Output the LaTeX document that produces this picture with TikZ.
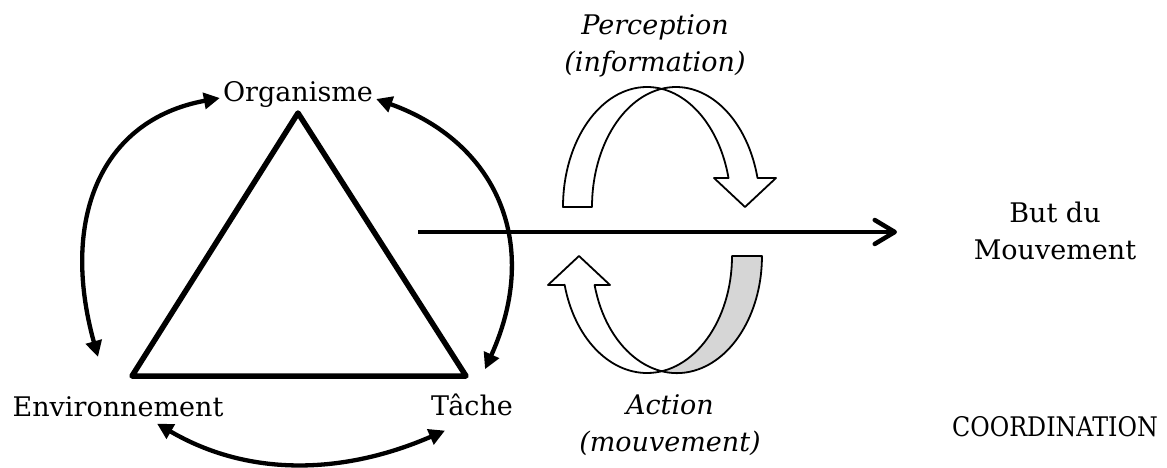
\documentclass[tikz,border=0pt]{standalone}
\usepackage{fontspec}
\setmainfont{DejaVu Serif}
\usetikzlibrary{arrows.meta,calc}
\begin{document}
\begin{tikzpicture}[x=1pt,y=-1pt,
  lbl/.style={font=\fontsize{27}{37}\selectfont, inner sep=0pt, align=center},
  ilbl/.style={lbl, font=\fontsize{27}{37}\selectfont\itshape},
  tri/.style={line width=5.5pt, line join=round},
  link/.style={line width=4.3pt, {Triangle[length=16pt,width=16pt]}-{Triangle[length=16pt,width=16pt]}},
  goal/.style={line width=4.5pt, -{Straight Barb[length=20pt,width=24pt,round]}},
  block/.style={line width=1.8pt, line join=round},
  back/.style={fill=black!16}
]
\useasboundingbox (0,0) rectangle (1167,468);

% labels
\node[lbl, anchor=base] (org) at (298,102) {Organisme};
\node[lbl, anchor=base] (env) at (118,416) {Environnement};
\node[lbl, anchor=base] (tache) at (472,415) {Tâche};
\node[ilbl, anchor=base] (perc) at (655,72) {Perception\\(information)};
\node[ilbl, anchor=base] (act) at (670,451) {Action\\(mouvement)};
\node[lbl, anchor=base] (but) at (1055,259) {But du\\Mouvement};
\node[lbl, anchor=base] (coord) at (1055,436) {\scalebox{0.88}[1]{COORDINATION}};

% triangle
\coordinate (apex) at (298,113);
\coordinate (bl) at (132,376);
\coordinate (br) at (466,376);
\draw[tri] (apex) -- (bl) -- (br) -- cycle;

% goal arrow
\coordinate (hs) at (418,232);
\coordinate (he) at (897,232);
\draw[goal] (hs) -- (he);

% interaction arrows
\draw[link] ($(org.base west)+(-3,-4)$) .. controls (100,120) and (60,220) .. ($(env.north)+(-20,-39)$);
\draw[link] ($(org.base east)+(3,-3)$) .. controls (496,142) and (542,243) .. ($(tache.north)+(13,-24)$);
\draw[link] ($(env.south)+(39,7)$) .. controls (250,478) and (345,474) .. ($(tache.south)+(-27,15)$);

% perception block arrow
\draw[block, fill=white] (563,207) arc[start angle=180, end angle=346, x radius=84, y radius=120]
  -- (714,178) -- (745,207) -- (776,178) -- (757.5,178)
  arc[start angle=346, end angle=180, x radius=84, y radius=120] -- cycle;

% action block arrow
\fill[white] (732,256) arc[start angle=0, end angle=165.7, x radius=85, y radius=117]
  -- (548,285) -- (579,256) -- (610,285) -- (594.6,285)
  arc[start angle=165.7, end angle=0, x radius=85, y radius=117] -- cycle;
\fill[back] (732,256) arc[start angle=0, end angle=79.8, x radius=85, y radius=117]
  arc[start angle=100.2, end angle=0, x radius=85, y radius=117] -- cycle;
\draw[block] (732,256) arc[start angle=0, end angle=165.7, x radius=85, y radius=117]
  -- (548,285) -- (579,256) -- (610,285) -- (594.6,285)
  arc[start angle=165.7, end angle=0, x radius=85, y radius=117] -- cycle;
\end{tikzpicture}
\end{document}
